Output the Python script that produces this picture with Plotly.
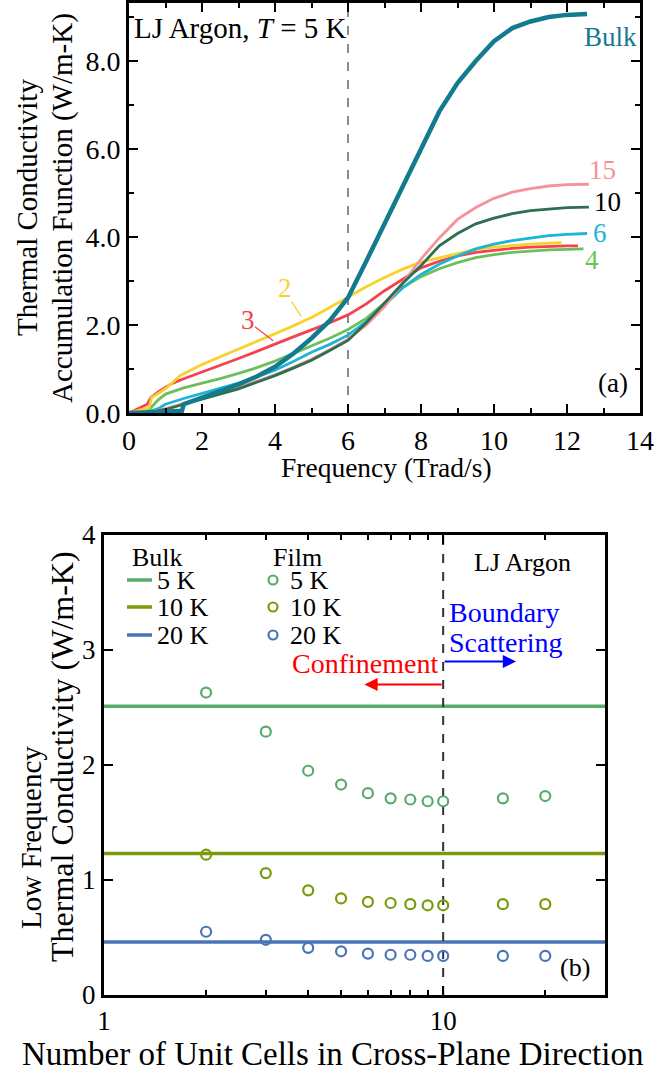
import plotly.graph_objects as go
import numpy as np

W, H = 656, 1071
FONT = "Liberation Serif, Times New Roman, serif"

# ---------------- Panel (a): accumulation functions, LJ Argon T = 5 K ----------------
f_bulk = [0, 0.5, 0.8, 1.0, 1.3, 1.45, 1.5, 2.0, 2.5, 3.0, 3.5, 4.0, 4.5, 5.0, 5.5, 6.0,
          6.5, 7.0, 7.5, 8.0, 8.5, 9.0, 9.5, 10.0, 10.5, 11.0, 11.5, 12.0, 12.55]
k_bulk = [0, 0, 0.02, 0.03, 0.04, 0.05, 0.2, 0.35, 0.5, 0.65, 0.83, 1.05, 1.35, 1.7, 2.1, 2.62,
          3.45, 4.3, 5.1, 6.0, 6.85, 7.5, 8.0, 8.45, 8.75, 8.9, 9.0, 9.05, 9.07]

f_2 = [0, 0.55, 0.62, 0.8, 1.0, 1.2, 1.4, 1.7, 2.0, 2.5, 3.0, 3.5, 4.0, 4.5, 5.0, 5.5, 6.0,
       6.5, 7.0, 7.5, 8.0, 8.5, 9.0, 9.5, 10.0, 10.5, 11.0, 11.5, 11.85]
k_2 = [0, 0.12, 0.35, 0.45, 0.55, 0.7, 0.85, 0.98, 1.1, 1.28, 1.45, 1.62, 1.8, 1.98, 2.17, 2.4, 2.64,
       2.87, 3.08, 3.27, 3.43, 3.53, 3.63, 3.72, 3.77, 3.81, 3.84, 3.86, 3.87]

f_3 = [0, 0.5, 0.6, 0.8, 1.0, 1.2, 1.5, 2.0, 2.5, 3.0, 3.5, 4.0, 4.5, 5.0, 5.5, 6.0,
       6.5, 7.0, 7.5, 8.0, 8.5, 9.0, 9.5, 10.0, 10.5, 11.0, 11.5, 12.0, 12.3]
k_3 = [0, 0.2, 0.35, 0.48, 0.58, 0.68, 0.78, 0.93, 1.08, 1.24, 1.4, 1.57, 1.73, 1.89, 2.05, 2.23,
       2.48, 2.78, 3.05, 3.3, 3.45, 3.57, 3.65, 3.7, 3.74, 3.77, 3.79, 3.8, 3.8]

f_4 = [0, 0.5, 0.6, 0.8, 1.0, 1.5, 2.0, 2.5, 3.0, 3.5, 4.0, 4.5, 5.0, 5.5, 6.0,
       6.5, 7.0, 7.5, 8.0, 8.5, 9.0, 9.5, 10.0, 10.5, 11.0, 11.5, 12.0, 12.45]
k_4 = [0, 0.05, 0.12, 0.3, 0.43, 0.57, 0.68, 0.78, 0.9, 1.03, 1.18, 1.35, 1.52, 1.7, 1.9,
       2.15, 2.5, 2.85, 3.1, 3.28, 3.42, 3.53, 3.6, 3.65, 3.68, 3.71, 3.72, 3.73]

f_6 = [0, 0.5, 0.8, 1.0, 1.5, 2.0, 2.5, 3.0, 3.5, 4.0, 4.5, 5.0, 5.5, 6.0,
       6.5, 7.0, 7.5, 8.0, 8.5, 9.0, 9.5, 10.0, 10.5, 11.0, 11.5, 12.0, 12.55]
k_6 = [0, 0.02, 0.1, 0.2, 0.33, 0.45, 0.56, 0.68, 0.82, 0.97, 1.17, 1.38, 1.56, 1.77,
       2.08, 2.45, 2.85, 3.15, 3.38, 3.57, 3.73, 3.84, 3.92, 3.98, 4.03, 4.06, 4.08]

f_10 = [0, 0.5, 1.0, 1.5, 2.0, 2.5, 3.0, 3.5, 4.0, 4.5, 5.0, 5.5, 6.0,
        6.5, 7.0, 7.5, 8.0, 8.5, 9.0, 9.5, 10.0, 10.5, 11.0, 11.5, 12.0, 12.6]
k_10 = [0, 0.01, 0.08, 0.2, 0.32, 0.43, 0.55, 0.7, 0.85, 1.02, 1.2, 1.42, 1.65,
        2.05, 2.5, 2.95, 3.35, 3.8, 4.08, 4.3, 4.43, 4.53, 4.6, 4.64, 4.67, 4.68]

f_15 = [0, 0.5, 1.0, 1.5, 2.0, 2.5, 3.0, 3.5, 4.0, 4.5, 5.0, 5.5, 6.0,
        6.5, 7.0, 7.5, 8.0, 8.5, 9.0, 9.5, 10.0, 10.5, 11.0, 11.5, 12.0, 12.6]
k_15 = [0, 0.01, 0.1, 0.22, 0.34, 0.45, 0.57, 0.72, 0.87, 1.04, 1.22, 1.44, 1.68,
        2.0, 2.42, 2.95, 3.5, 3.98, 4.4, 4.67, 4.88, 5.02, 5.1, 5.16, 5.19, 5.2]

# ---------------- Panel (b): low-frequency conductivity ----------------
n_cells = [2, 3, 4, 5, 6, 7, 8, 9, 10, 15, 20]
film_5K = [2.63, 2.29, 1.95, 1.83, 1.755, 1.71, 1.70, 1.685, 1.685, 1.71, 1.73]
film_10K = [1.22, 1.06, 0.91, 0.84, 0.81, 0.80, 0.79, 0.78, 0.78, 0.79, 0.79]
film_20K = [0.55, 0.48, 0.41, 0.38, 0.36, 0.35, 0.35, 0.34, 0.34, 0.34, 0.34]
bulk_5K, bulk_10K, bulk_20K = 2.51, 1.23, 0.46
x_range_b = [1, 30]
n_transition = 10
f_marker = 6

C_BULK = "#137b8e"
C2, C3, C4, C6, C10, C15 = "#f7d22a", "#f4424f", "#6cbf5a", "#1cb5d6", "#2f6e4e", "#f5939b"
G5, G10, G20 = "#58ac6a", "#7a9c0c", "#4a74b8"

fig = go.Figure()

def line(x, y, color, width, xa="x", ya="y", dash=None):
    fig.add_trace(go.Scatter(x=x, y=y, mode="lines", xaxis=xa, yaxis=ya,
                             line=dict(color=color, width=width, dash=dash),
                             showlegend=False, hoverinfo="skip"))

YMAX_A = 9.32
line([f_marker, f_marker], [0, YMAX_A], "#8c8c8c", 2, dash="dash")
for fx, ky, c in [(f_4, k_4, C4), (f_3, k_3, C3), (f_2, k_2, C2), (f_6, k_6, C6),
                  (f_15, k_15, C15), (f_10, k_10, C10)]:
    line(fx, ky, c, 2.8)
line(f_bulk, k_bulk, C_BULK, 4.5)

# panel b
line(x_range_b, [bulk_5K] * 2, G5, 3.5, "x2", "y2")
line(x_range_b, [bulk_10K] * 2, G10, 3.5, "x2", "y2")
line(x_range_b, [bulk_20K] * 2, G20, 3.5, "x2", "y2")
line([n_transition, n_transition], [0, 4], "#333333", 2, "x2", "y2", dash="dash")
for vals, c in [(film_5K, G5), (film_10K, G10), (film_20K, G20)]:
    fig.add_trace(go.Scatter(x=n_cells, y=vals, mode="markers", xaxis="x2", yaxis="y2",
                             marker=dict(symbol="circle-open", size=10, color=c,
                                         line=dict(width=2.2, color=c)),
                             showlegend=False, hoverinfo="skip"))

def px(x):
    return x / W

def py(y):
    return 1 - y / H

def axis_common(size):
    return dict(showline=True, linecolor="black", linewidth=3, mirror="ticks",
                ticks="inside", ticklen=9, tickwidth=2, tickcolor="black",
                showgrid=False, zeroline=False, automargin=False,
                tickfont=dict(family=FONT, size=size, color="black"))
minor_common = dict(ticks="inside", ticklen=5, tickwidth=1.5, tickcolor="black", showgrid=False)

fig.update_layout(
    template="none",
    width=W, height=H, margin=dict(l=0, r=0, t=0, b=0, pad=0),
    paper_bgcolor="white", plot_bgcolor="white", showlegend=False,
    font=dict(family=FONT, color="black"),
    xaxis=dict(domain=[px(129), px(640)], range=[0, 14], anchor="y",
               tickvals=list(range(0, 15, 2)),
               minor=dict(tickvals=list(range(1, 14, 2)), **minor_common), **axis_common(28)),
    yaxis=dict(domain=[py(413), py(3)], range=[0, YMAX_A], anchor="x",
               tickvals=[0, 2, 4, 6, 8], ticktext=["0.0", "2.0", "4.0", "6.0", "8.0"],
               minor=dict(tickvals=[1, 3, 5, 7, 9], **minor_common), **axis_common(28)),
    xaxis2=dict(domain=[px(104), px(605)], type="log", range=[0, np.log10(30)], anchor="y2",
                tickvals=[1, 10], ticktext=["1", "10"],
                minor=dict(tickvals=[2, 3, 4, 5, 6, 7, 8, 9, 20], **minor_common), **axis_common(27)),
    yaxis2=dict(domain=[py(995), py(535)], range=[0, 4], anchor="x2",
                tickvals=[0, 1, 2, 3, 4], **axis_common(27)),
)

ann = []
def T(text, x, y, size=27, color="black", xanchor="center", yanchor="middle", xref="paper", yref="paper", angle=0):
    ann.append(dict(text=text, x=x, y=y, xref=xref, yref=yref, showarrow=False,
                    xanchor=xanchor, yanchor=yanchor, textangle=angle,
                    font=dict(family=FONT, size=size, color=color)))

# axis titles
T("Thermal Conductivity", px(27), py(208), size=29, angle=-90)
T("Accumulation Function (W/m-K)", px(63), py(208), size=29, angle=-90)
T("Frequency (Trad/s)", px(386), py(467), size=27.5)
T("Low Frequency", px(31), py(838), size=29, angle=-90)
T("Thermal Conductivity (W/m-K)", px(62), py(757), size=32, angle=-90)
T("Number of Unit Cells in Cross-Plane Direction", px(333), py(1054), size=33)

# panel a labels
T("LJ Argon, <i>T</i> = 5 K", px(132), py(28), size=29, xanchor="left")
T("Bulk", 13.2, 8.55, size=27, color=C_BULK, xref="x", yref="y")
T("15", 12.96, 5.52, size=27, color=C15, xref="x", yref="y")
T("10", 13.1, 4.8, size=27, color="black", xref="x", yref="y")
T("6", 12.9, 4.09, size=27, color=C6, xref="x", yref="y")
T("4", 12.68, 3.48, size=27, color=C4, xref="x", yref="y")
T("2", 4.27, 2.84, size=27, color=C2, xref="x", yref="y")
T("3", 3.26, 2.11, size=27, color=C3, xref="x", yref="y")
T("(a)", 13.26, 0.68, size=27, xref="x", yref="y")

# panel b labels / legend
T("Bulk", px(157), py(557), size=26)
T("Film", px(297), py(557), size=26)
rows = [580, 607, 635]
for r, lab in zip(rows, ["5 K", "10 K", "20 K"]):
    T(lab, px(155), py(r), size=26, xanchor="left")
    T(lab, px(288), py(r), size=26, xanchor="left")
T("LJ Argon", px(522), py(562), size=26)
T("Boundary", px(447), py(612), size=28, color="blue", xanchor="left")
T("Scattering", px(447), py(642), size=28, color="blue", xanchor="left")
T("Confinement", px(440), py(663), size=28, color="red", xanchor="right")
T("(b)", px(575), py(967), size=26)

# arrows in panel b (log axis -> log units)
ann.append(dict(x=np.log10(5.86), y=2.70, ax=np.log10(10), ay=2.70, xref="x2", yref="y2",
                axref="x2", ayref="y2", text="", showarrow=True, arrowhead=2, arrowsize=1.2,
                arrowwidth=2.2, arrowcolor="red"))
ann.append(dict(x=np.log10(16.4), y=2.90, ax=np.log10(10), ay=2.90, xref="x2", yref="y2",
                axref="x2", ayref="y2", text="", showarrow=True, arrowhead=2, arrowsize=1.2,
                arrowwidth=2.2, arrowcolor="blue"))
fig.update_layout(annotations=ann)

shapes = []
# leader lines for labels 2 and 3
shapes.append(dict(type="line", xref="x", yref="y", x0=4.45, y0=2.53, x1=4.72, y1=2.19,
                   line=dict(color=C2, width=1.2)))
shapes.append(dict(type="line", xref="x", yref="y", x0=3.45, y0=1.96, x1=3.95, y1=1.64,
                   line=dict(color=C3, width=1.2)))
# legend samples
for r, c in zip(rows, [G5, G10, G20]):
    shapes.append(dict(type="line", xref="paper", yref="paper", x0=px(127), x1=px(152),
                       y0=py(r), y1=py(r), line=dict(color=c, width=3.5)))
    shapes.append(dict(type="circle", xref="paper", yref="paper", xsizemode="pixel",
                       ysizemode="pixel", xanchor=px(273), yanchor=py(r),
                       x0=-4.5, x1=4.5, y0=-4.5, y1=4.5, line=dict(color=c, width=2.2)))
fig.update_layout(shapes=shapes)

fig.write_html("out.html")
